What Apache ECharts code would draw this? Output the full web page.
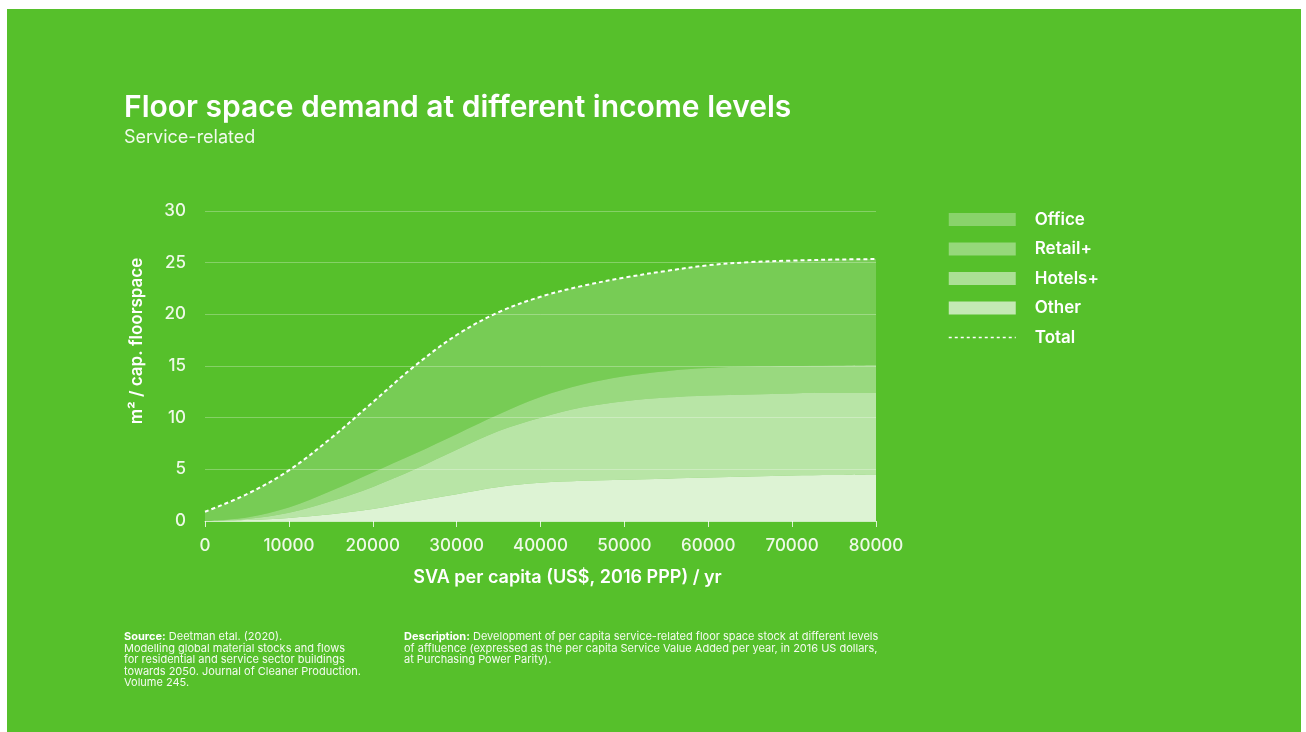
<!DOCTYPE html>
<html>
<head>
<meta charset="utf-8">
<title>Floor space demand at different income levels</title>
<script src="https://cdn.jsdelivr.net/npm/echarts@6/dist/echarts.min.js"></script>
<style>
  html, body { margin: 0; padding: 0; background: #ffffff; }
  #chart { width: 1306px; height: 732px; }
</style>
</head>
<body>
<div id="chart"></div>
<script>
// Service value added per capita (US$, 2016 PPP) / yr
const svaPerCapita = ['0', '5000', '10000', '15000', '20000', '25000', '30000', '35000', '40000',
                      '45000', '50000', '55000', '60000', '65000', '70000', '75000', '80000'];

// m² floor space per capita, by building type (stacked bottom to top)
const otherArea  = [0, 0.1, 0.3, 0.65, 1.15, 1.9, 2.6, 3.3, 3.7, 3.9, 4.0, 4.1, 4.2, 4.3, 4.4, 4.45, 4.5];
const hotelsArea = [0, 0.1, 0.5, 1.25, 2.15, 3.1, 4.3, 5.4, 6.3, 7.1, 7.6, 7.85, 7.95, 7.95, 7.95, 7.95, 7.9];
const retailArea = [0, 0.15, 0.5, 1.0, 1.4, 1.5, 1.5, 1.6, 2.0, 2.2, 2.4, 2.55, 2.65, 2.7, 2.65, 2.65, 2.7];
const officeArea = [0.9, 2.25, 3.6, 5.1, 6.8, 8.5, 9.6, 9.9, 9.7, 9.55, 9.55, 9.7, 9.95, 10.1, 10.2, 10.25, 10.25];
const totalArea  = [0.9, 2.6, 4.9, 8.0, 11.5, 15.0, 18.0, 20.2, 21.7, 22.75, 23.55, 24.2, 24.75, 25.05, 25.2, 25.3, 25.35];

const yTicks = { min: 0, max: 30, step: 5 };

const FONT = 'Inter, "Noto Sans", sans-serif';
const GREEN = '#56c02b';

function areaSeries(name, values, alpha) {
  return {
    name: name,
    type: 'line',
    stack: 'floorspace',
    smooth: 0.35,
    showSymbol: false,
    symbol: 'none',
    color: 'rgba(255,255,255,' + alpha + ')',
    lineStyle: { width: 0 },
    areaStyle: { color: 'rgba(255,255,255,' + alpha + ')', opacity: 1 },
    emphasis: { disabled: true },
    data: values
  };
}

const chart = echarts.init(document.getElementById('chart'), null, { renderer: 'canvas' });

chart.setOption({
  backgroundColor: '#ffffff',
  animation: false,
  textStyle: { fontFamily: FONT },
  title: {
    text: 'Floor space demand at different income levels',
    subtext: 'Service-related',
    left: 119,
    top: 88,
    itemGap: 6,
    textStyle: { color: '#ffffff', fontSize: 30, fontWeight: 600, fontFamily: FONT },
    subtextStyle: { color: '#f1faec', fontSize: 18, fontWeight: 400, fontFamily: FONT }
  },
  grid: { left: 205, right: 430, top: 211, bottom: 211 },
  legend: {
    orient: 'vertical',
    left: 948,
    top: 211,
    padding: 0,
    itemWidth: 67,
    itemHeight: 13,
    itemGap: 12.5,
    selectedMode: false,
    textStyle: {
      color: '#ffffff', fontSize: 17, fontWeight: 600, fontFamily: FONT,
      padding: [0, 0, 0, 14]
    },
    data: [
      { name: 'Office',  icon: 'rect', itemStyle: { color: 'rgba(255,255,255,0.3)' } },
      { name: 'Retail+', icon: 'rect', itemStyle: { color: 'rgba(255,255,255,0.38)' } },
      { name: 'Hotels+', icon: 'rect', itemStyle: { color: 'rgba(255,255,255,0.5)' } },
      { name: 'Other',   icon: 'rect', itemStyle: { color: 'rgba(255,255,255,0.65)' } },
      { name: 'Total', itemStyle: { color: 'rgba(0,0,0,0)', borderWidth: 0 },
        lineStyle: { color: '#ffffff', width: 1.5, type: [3, 3] } }
    ]
  },
  xAxis: {
    type: 'category',
    boundaryGap: false,
    data: svaPerCapita,
    name: 'SVA per capita (US$, 2016 PPP) / yr',
    nameLocation: 'middle',
    nameGap: 48,
    nameTextStyle: { color: '#ffffff', fontSize: 18, fontWeight: 600, fontFamily: FONT, padding: [0, 0, 0, 54] },
    axisLine: { show: true, lineStyle: { color: 'rgba(255,255,255,0.6)', width: 1 } },
    axisTick: { show: true, interval: 1, length: 6, lineStyle: { color: 'rgba(255,255,255,0.8)', width: 1 } },
    axisLabel: { interval: 1, color: '#eef9e8', fontSize: 17, fontWeight: 500, margin: 16, fontFamily: FONT },
    splitLine: { show: false }
  },
  yAxis: {
    type: 'value',
    min: yTicks.min,
    max: yTicks.max,
    interval: yTicks.step,
    name: 'm² / cap. floorspace',
    nameLocation: 'middle',
    nameGap: 60,
    nameRotate: 90,
    nameTextStyle: { color: '#ffffff', fontSize: 17, fontWeight: 600, fontFamily: FONT, padding: [0, 0, 0, 50] },
    axisLine: { show: false },
    axisTick: { show: false },
    axisLabel: { color: '#eef9e8', fontSize: 17, fontWeight: 500, margin: 19, fontFamily: FONT },
    splitLine: { show: true, lineStyle: { color: 'rgba(255,255,255,0.28)', width: 1 } }
  },
  series: [
    areaSeries('Other', otherArea, 0.8),
    areaSeries('Hotels+', hotelsArea, 0.58),
    areaSeries('Retail+', retailArea, 0.4),
    areaSeries('Office', officeArea, 0.2),
    {
      name: 'Total',
      type: 'line',
      smooth: 0.35,
      showSymbol: false,
      symbol: 'none',
      z: 5,
      color: '#ffffff',
      lineStyle: { color: '#ffffff', width: 2, type: [4, 3] },
      emphasis: { disabled: true },
      data: totalArea
    }
  ],
  graphic: [
    {
      type: 'rect',
      z: -100,
      silent: true,
      shape: { x: 7, y: 9, width: 1294, height: 723 },
      style: { fill: GREEN }
    },
    {
      type: 'text',
      left: 124,
      top: 631,
      silent: true,
      style: {
        text: '{b|Source:} Deetman etal. (2020).\nModelling global material stocks and flows\nfor residential and service sector buildings\ntowards 2050. Journal of Cleaner Production.\nVolume 245.',
        fill: '#f4fbf0',
        font: '400 11px ' + FONT,
        lineHeight: 11.5,
        rich: {
          b: { fontWeight: 700, fontSize: 11, fontFamily: FONT, fill: '#ffffff', lineHeight: 11.5 }
        }
      }
    },
    {
      type: 'text',
      left: 404,
      top: 631,
      silent: true,
      style: {
        text: '{b|Description:} Development of per capita service-related floor space stock at different levels\nof affluence (expressed as the per capita Service Value Added per year, in 2016 US dollars,\nat Purchasing Power Parity).',
        fill: '#f4fbf0',
        font: '400 11px ' + FONT,
        lineHeight: 11.5,
        rich: {
          b: { fontWeight: 700, fontSize: 11, fontFamily: FONT, fill: '#ffffff', lineHeight: 11.5 }
        }
      }
    }
  ]
});
</script>
</body>
</html>
